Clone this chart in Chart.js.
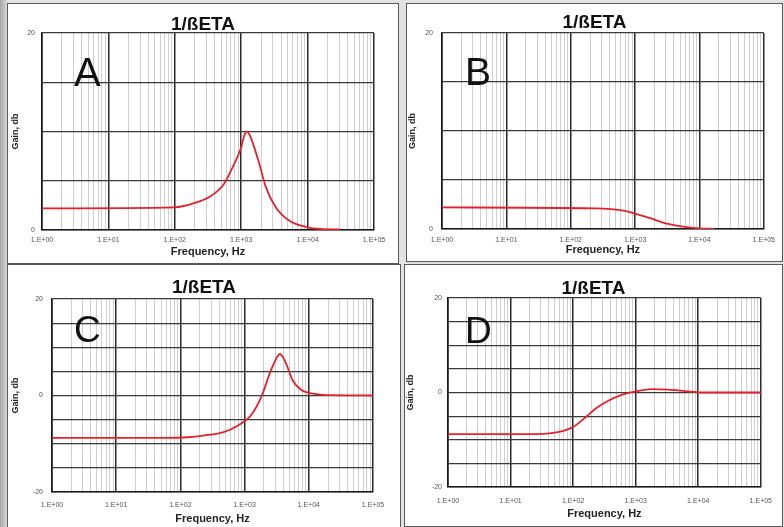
<!DOCTYPE html>
<html>
<head>
<meta charset="utf-8">
<script src="https://cdn.jsdelivr.net/npm/chart.js@4.4.1/dist/chart.umd.min.js"></script>
<style>
  body { margin: 0; width: 784px; height: 527px; overflow: hidden; background: #e2e2e2; position: relative; }
  .strip { position: absolute; left: 0; top: 0; width: 7px; height: 527px; background: linear-gradient(to right, #a6a6a6, #d6d6d6); }
  .panel { position: absolute; background: #fff; border: 1px solid #5a5a5a; }
  canvas { display: block; }
</style>
</head>
<body>
<div class="strip"></div>
<div class="panel" style="left:7px;top:3px"><canvas id="chartA" width="390" height="259"></canvas></div>
<div class="panel" style="left:406px;top:3px"><canvas id="chartB" width="375" height="257"></canvas></div>
<div class="panel" style="left:7px;top:264px"><canvas id="chartC" width="392" height="263"></canvas></div>
<div class="panel" style="left:404px;top:264px"><canvas id="chartD" width="377" height="261"></canvas></div>

<script>
// frequency axis (Hz)
const decades = [1, 10, 100, 1000, 10000, 100000];
const xTickLabels = ['1.E+00', '1.E+01', '1.E+02', '1.E+03', '1.E+04', '1.E+05'];
const minorMultiples = [2, 3, 4, 5, 6, 7, 8, 9];

// gain axis (dB)
const yLabelsAB = [0, 20];
const yLabelsCD = [-20, 0, 20];

// curves
const freqA = [1, 100, 190, 340, 540, 710, 1000, 1100, 1200, 1290, 1410, 1860, 2340, 3310, 5250, 10000, 15500, 31000];
const gainA = [2.2, 2.3, 2.7, 3.4, 4.6, 6.1, 8.4, 9.5, 10.0, 9.85, 9.3, 6.8, 4.4, 2.3, 0.96, 0.27, 0.1, 0.05];

const freqB = [1, 240, 690, 1000, 1820, 2880, 5250, 10000, 17000];
const gainB = [2.2, 2.1, 1.85, 1.57, 1.06, 0.6, 0.27, 0.07, 0.02];

const freqC = [1, 60, 130, 230, 470, 790, 1260, 1820, 2570, 3310, 3550, 3900, 4470, 5620, 7590, 10000, 15500, 22400, 100000];
const gainC = [-8.8, -8.78, -8.65, -8.3, -7.6, -6.2, -4.1, -0.3, 5.2, 8.3, 8.6, 8.1, 6.5, 3.1, 1.2, 0.55, 0.2, 0.07, 0];

const freqD = [1, 25, 45, 70, 100, 160, 230, 370, 600, 1000, 1780, 3310, 6170, 11200, 100000];
const gainD = [-8.8, -8.8, -8.6, -8.1, -7.3, -5.2, -3.4, -1.7, -0.5, 0.2, 0.7, 0.6, 0.3, 0.0, 0];

const FONT = '"Liberation Sans", Arial, sans-serif';

const gridValues = [];
decades.forEach(d => {
  gridValues.push(d);
  if (d < 100000) minorMultiples.forEach(m => gridValues.push(d * m));
});

const isDecade = v => Math.abs(Math.log10(v) - Math.round(Math.log10(v))) < 1e-9;

const panelText = {
  id: 'panelText',
  afterDraw(chart, args, opts) {
    const ctx = chart.ctx;
    ctx.save();
    ctx.fillStyle = '#111';
    ctx.font = 'bold 19px ' + FONT;
    ctx.textAlign = 'center';
    ctx.textBaseline = 'alphabetic';
    ctx.fillText('1/ßETA', chart.width / 2, opts.titleY);
    ctx.font = opts.letterSize + 'px ' + FONT;
    ctx.textAlign = 'left';
    ctx.fillText(opts.letter, opts.letterX, opts.letterY);
    ctx.restore();
  }
};

function makeChart(id, freq, gain, yMin, yMax, yLabels, lay) {
  const points = freq.map((f, i) => ({ x: f, y: gain[i] }));
  new Chart(document.getElementById(id), {
    type: 'line',
    data: {
      datasets: [{
        data: points,
        borderColor: '#e2232e',
        borderWidth: 1.8,
        pointRadius: 0,
        fill: false,
        cubicInterpolationMode: 'monotone',
      }],
    },
    options: {
      responsive: false,
      animation: false,
      layout: { padding: { top: lay.top, right: lay.right, bottom: 0, left: 0 } },
      plugins: {
        legend: { display: false },
        tooltip: { enabled: false },
        panelText: lay.text,
      },
      scales: {
        x: {
          type: 'logarithmic',
          min: 1,
          max: 100000,
          afterBuildTicks: scale => { scale.ticks = gridValues.map(v => ({ value: v })); },
          afterFit: scale => { scale.height = lay.bottom; },
          ticks: {
            autoSkip: false,
            maxRotation: 0,
            padding: lay.xTickPad,
            color: '#555',
            font: { family: FONT, size: 7 },
            callback: v => {
              const i = decades.indexOf(v);
              return i >= 0 ? xTickLabels[i] : '';
            },
          },
          grid: {
            drawTicks: false,
            color: ctx => (ctx.tick && isDecade(ctx.tick.value)) ? '#2a2a2a' : '#cfcfcf',
            lineWidth: ctx => (ctx.tick && isDecade(ctx.tick.value)) ? 1.5 : 1,
          },
          border: { color: '#1a1a1a', width: 1.6 },
          title: {
            display: true,
            text: 'Frequency, Hz',
            color: '#222',
            font: { family: FONT, size: 11, weight: 'bold' },
            padding: { top: 0, bottom: lay.xTitlePad },
          },
        },
        y: {
          min: yMin,
          max: yMax,
          afterFit: scale => { scale.width = lay.left; },
          ticks: {
            stepSize: 5,
            padding: lay.yTickPad,
            color: '#555',
            font: { family: FONT, size: 7 },
            callback: v => yLabels.includes(v) ? String(v) : '',
          },
          grid: { drawTicks: false, color: '#3a3a3a', lineWidth: 1.2 },
          border: { color: '#1a1a1a', width: 1.6 },
          title: {
            display: true,
            text: 'Gain, db',
            color: '#222',
            font: { family: FONT, size: 9, weight: 'bold' },
            padding: { top: lay.yTitlePad, bottom: 0 },
          },
        },
      },
    },
    plugins: [panelText],
  });
}

makeChart('chartA', freqA, gainA, 0, 20, yLabelsAB, {
  top: 29, right: 24, bottom: 33, left: 34,
  xTickPad: 6, xTitlePad: 4, yTickPad: 7, yTitlePad: 2,
  text: { titleY: 26, letter: 'A', letterSize: 40, letterX: 66, letterY: 82 },
});
makeChart('chartB', freqB, gainB, 0, 20, yLabelsAB, {
  top: 29, right: 15, bottom: 32, left: 35,
  xTickPad: 7, xTitlePad: 4, yTickPad: 9, yTitlePad: 0,
  text: { titleY: 24, letter: 'B', letterSize: 39, letterX: 58, letterY: 81 },
});
makeChart('chartC', freqC, gainC, -20, 20, yLabelsCD, {
  top: 34, right: 27, bottom: 36, left: 44,
  xTickPad: 9, xTitlePad: 2, yTickPad: 9, yTitlePad: 2,
  text: { titleY: 28, letter: 'C', letterSize: 37, letterX: 66, letterY: 77 },
});
makeChart('chartD', freqD, gainD, -20, 20, yLabelsCD, {
  top: 33, right: 20, bottom: 39, left: 43,
  xTickPad: 10, xTitlePad: 5, yTickPad: 6, yTitlePad: 0,
  text: { titleY: 29, letter: 'D', letterSize: 37, letterX: 60, letterY: 78 },
});
</script>
</body>
</html>
